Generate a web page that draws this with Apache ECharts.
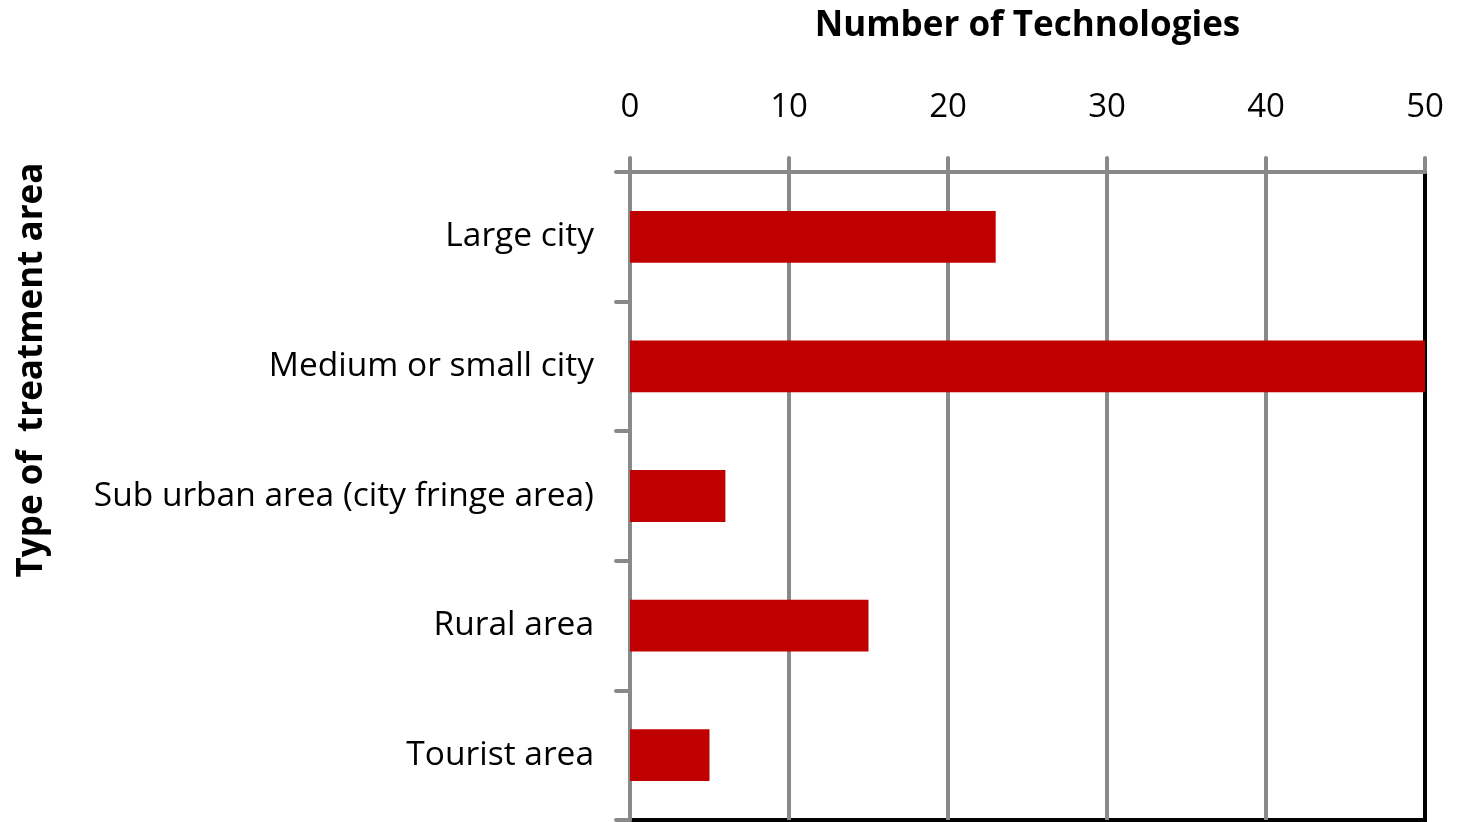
<!DOCTYPE html>
<html>
<head>
<meta charset="utf-8">
<script src="https://cdn.jsdelivr.net/npm/echarts@6/dist/echarts.min.js"></script>
<style>
html, body { margin: 0; padding: 0; background: #fff; }
#main { width: 1459px; height: 822px; }
</style>
</head>
<body>
<div id="main"></div>
<script>
var categories = ['Large city', 'Medium or small city', 'Sub urban area (city fringe area)', 'Rural area', 'Tourist area'];
var counts = [23, 50, 6, 15, 5];
var xTicks = [0, 10, 20, 30, 40, 50];

var chartDom = document.getElementById('main');
var myChart = echarts.init(chartDom);
var option;
var gray = '#898989';
var font = '"Open Sans", Lato, sans-serif';

option = {
	backgroundColor: '#fff',
	animation: false,
	grid: {
		left: 630,
		right: 34,
		top: 172,
		bottom: 2,
		outerBoundsMode: 'none',
		containLabel: false,
		show: true,
		borderColor: '#000',
		borderWidth: 4
	},
	xAxis: {
		type: 'value',
		position: 'top',
		min: xTicks[0],
		max: xTicks[xTicks.length - 1],
		interval: 10,
		name: 'Number of Technologies',
		nameLocation: 'middle',
		nameGap: 128,
		nameTextStyle: {
			color: '#000',
			fontSize: 35,
			fontWeight: 'bold',
			fontFamily: font
		},
		axisLine: { show: true, lineStyle: { color: gray, width: 4, cap: 'round' } },
		axisTick: { show: true, length: 14, lineStyle: { color: gray, width: 4, cap: 'round' } },
		axisLabel: { color: '#000', fontSize: 33, margin: 48, fontFamily: font },
		splitLine: { show: true, lineStyle: { color: [gray, gray, gray, gray, gray, '#000'], width: 4 } }
	},
	yAxis: {
		type: 'category',
		inverse: true,
		data: categories,
		axisLine: { show: true, lineStyle: { color: gray, width: 4, cap: 'round' } },
		axisTick: { show: true, length: 14, lineStyle: { color: gray, width: 4, cap: 'round' } },
		axisLabel: { color: '#000', fontSize: 33.5, margin: 36, fontFamily: font }
	},
	graphic: [{
		type: 'text',
		x: 32,
		y: 370,
		rotation: Math.PI / 2,
		style: {
			text: 'Type of  treatment area',
			fill: '#000',
			fontSize: 35,
			fontWeight: 'bold',
			fontFamily: font,
			align: 'center',
			verticalAlign: 'middle'
		}
	}],
	series: [{
		name: 'Technologies',
		type: 'bar',
		data: counts,
		barCategoryGap: '60%',
		itemStyle: { color: '#c00000' }
	}]
};

option && myChart.setOption(option);
</script>
</body>
</html>
